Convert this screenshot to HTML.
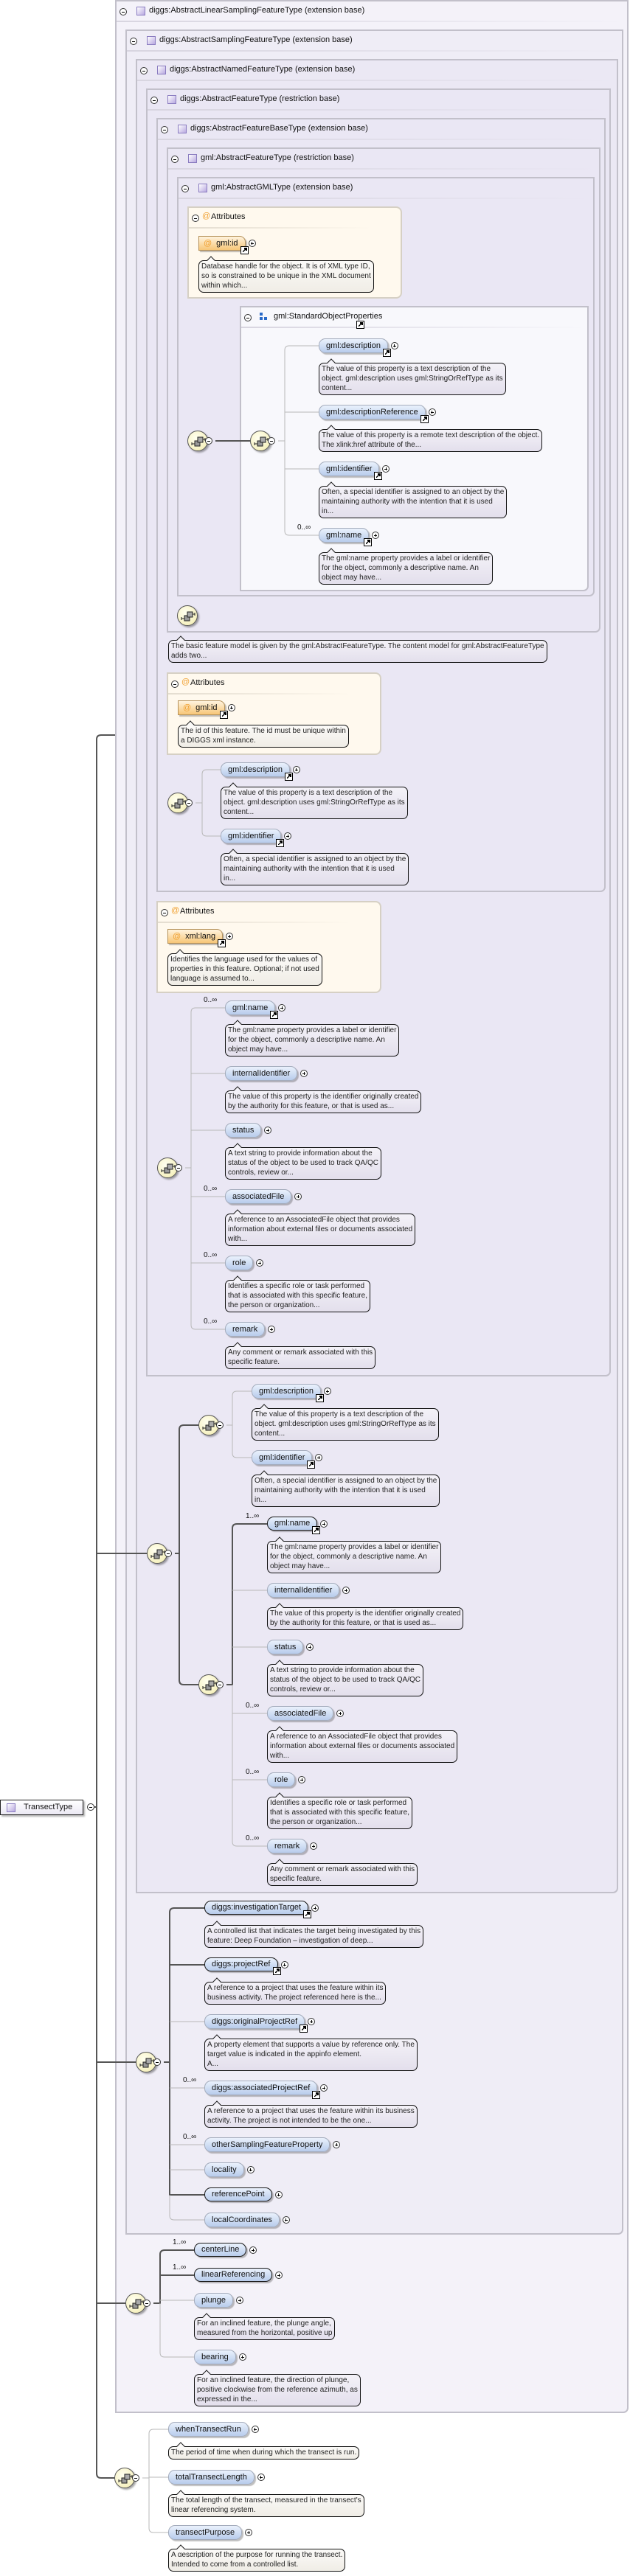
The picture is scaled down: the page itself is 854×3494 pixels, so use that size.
<!DOCTYPE html>
<html><head><meta charset="utf-8">
<style>
body{margin:0;width:854px;height:3494px;position:relative;background:#fff;font-family:"Liberation Sans",sans-serif;overflow:hidden;color:#111}
.b{position:absolute;border:2px solid #c2c0ca;border-radius:0 0 7px 0;box-sizing:border-box}
.b>.hl{position:absolute;left:0;right:0;top:26px;height:2px;background:linear-gradient(90deg,#d8d5e0,rgba(216,213,224,0))}
.bt{position:absolute;top:6px;left:44px;font-size:11px;white-space:nowrap}
.bi{position:absolute;top:7px;left:27px;width:10px;height:10px;border:1px solid #8a7cc0;background:linear-gradient(135deg,#fff,#b8a8e0)}
.mc,.pc{position:absolute;width:8px;height:8px;border:1px solid #333;border-radius:50%;background:#fff}
.mc::after,.pc::after{content:"";position:absolute;left:2px;width:4px;top:3.5px;height:1px;background:#000}
.pc::before{content:"";position:absolute;top:2px;height:4px;left:3.5px;width:1px;background:#000}
.sq{position:absolute;width:28px;height:28px;border-radius:50%;background:radial-gradient(circle at 40% 35%,#fffff0,#f3ecae);border:1px solid #555;box-sizing:border-box;box-shadow:2px 2px 2px rgba(0,0,0,.35)}
.sq svg{position:absolute;left:0;top:0}
.e{position:absolute;height:20px;white-space:nowrap}
.p{position:relative;display:inline-block;height:18px;line-height:18px;padding:0 9px;border-radius:9px;background:linear-gradient(#eaf1fc,#b8ccec);border:1px solid #a4acbc;box-shadow:2px 2px 1px rgba(0,0,0,.25);font-size:11px;vertical-align:top}
.p.r{border:1.5px solid #1a1a1a;height:17px;line-height:17px}
.e .pc{position:relative;display:inline-block;vertical-align:top;margin:5px 0 0 4px}
.lk{position:absolute;right:-5px;bottom:-6px;width:9px;height:9px;border:1px solid #000;background:#fff}
.lk::after{content:"";position:absolute;left:2px;top:2px;width:5px;height:5px;background:linear-gradient(135deg,transparent 40%,#000 40%,#000 60%,transparent 60%)}
.lk::before{content:"";position:absolute;right:1px;top:1px;width:4px;height:4px;border-top:1px solid #000;border-right:1px solid #000;box-sizing:border-box;border-width:2px}
.at{background:linear-gradient(#fff3de,#f7c677);border:1px solid #b49058;border-radius:0 8px 8px 0;padding:0 9px 0 6px}
.at i{font-style:normal;color:#f0a030;margin-right:6px}
.d{position:absolute;font-size:10px;line-height:13px;padding:1px 3px 2px 3px;border:1px solid #111;border-radius:7px;background:linear-gradient(#f4f2f8,#e3dfec);white-space:nowrap;color:#222}
.d::before{content:"";position:absolute;left:12px;top:-5px;width:7px;height:7px;background:#f4f2f8;border-left:1px solid #111;border-top:1px solid #111;transform:rotate(45deg)}
.d.w{background:linear-gradient(#fbfaf8,#f0ede6)}
.d.w::before{background:#fbfaf8}
.c{position:absolute;font-size:10px;white-space:nowrap}
.ab{position:absolute;background:#fff9ee;border:2px solid #d6d0c4;border-radius:0 8px 8px 0;box-sizing:border-box}
.ab .hl{position:absolute;left:0;right:40px;top:26px;height:2px;background:linear-gradient(90deg,#e4ddd0,rgba(228,221,208,0))}
.ab .t{position:absolute;left:30px;top:6px;font-size:11px}
.ab .ai{position:absolute;left:18px;top:5px;font-size:11px;color:#f0a030}
svg.ln{position:absolute;left:0;top:0}
</style></head><body>

<!-- nested boxes -->
<div class="b" style="left:156px;top:0;width:696px;height:3273px;background:#f4f2f9"><div class="hl"></div><div class="mc" style="left:4px;top:9px"></div><div class="bi"></div><div class="bt">diggs:AbstractLinearSamplingFeatureType (extension base)</div></div>
<div class="b" style="left:170px;top:40px;width:675px;height:2991px;background:#efedf6"><div class="hl"></div><div class="mc" style="left:4px;top:9px"></div><div class="bi"></div><div class="bt">diggs:AbstractSamplingFeatureType (extension base)</div></div>
<div class="b" style="left:184px;top:80px;width:654px;height:2488px;background:#ebe8f4"><div class="hl"></div><div class="mc" style="left:4px;top:9px"></div><div class="bi"></div><div class="bt">diggs:AbstractNamedFeatureType (extension base)</div></div>
<div class="b" style="left:198px;top:120px;width:630px;height:1747px;background:#eae7f4"><div class="hl"></div><div class="mc" style="left:4px;top:9px"></div><div class="bi"></div><div class="bt">diggs:AbstractFeatureType (restriction base)</div></div>
<div class="b" style="left:212px;top:160px;width:609px;height:1050px;background:#eae7f4"><div class="hl"></div><div class="mc" style="left:4px;top:9px"></div><div class="bi"></div><div class="bt">diggs:AbstractFeatureBaseType (extension base)</div></div>
<div class="b" style="left:226px;top:200px;width:588px;height:658px;background:#eae7f4"><div class="hl"></div><div class="mc" style="left:4px;top:9px"></div><div class="bi"></div><div class="bt">gml:AbstractFeatureType (restriction base)</div></div>
<div class="b" style="left:240px;top:240px;width:566px;height:569px;background:#eae7f4"><div class="hl"></div><div class="mc" style="left:4px;top:9px"></div><div class="bi"></div><div class="bt">gml:AbstractGMLType (extension base)</div></div>

<!-- SOP box -->
<div class="b" style="left:325px;top:415px;width:473px;height:387px;background:#f8f8fc;border-radius:0 0 7px 0"><div class="hl"></div><div class="mc" style="left:4px;top:9px"></div>
<div style="position:absolute;left:25px;top:7px;width:4px;height:4px;background:#2a6ac8"></div><div style="position:absolute;left:25px;top:13px;width:4px;height:4px;background:#2a6ac8"></div><div style="position:absolute;left:31px;top:13px;width:4px;height:4px;background:#2a6ac8"></div>
<div class="bt" style="left:44px">gml:StandardObjectProperties</div><div class="lk" style="right:auto;bottom:auto;left:156px;top:18px"></div></div>

<!-- attribute boxes -->
<div class="ab" style="left:254px;top:280px;width:291px;height:125px"><div class="hl"></div><div class="mc" style="left:4px;top:9px"></div><div class="ai">@</div><div class="t">Attributes</div></div>
<div class="ab" style="left:226px;top:912px;width:291px;height:112px"><div class="hl"></div><div class="mc" style="left:4px;top:9px"></div><div class="ai">@</div><div class="t">Attributes</div></div>
<div class="ab" style="left:212px;top:1222px;width:305px;height:125px"><div class="hl"></div><div class="mc" style="left:4px;top:9px"></div><div class="ai">@</div><div class="t">Attributes</div></div>

<!-- TransectType -->
<div style="position:absolute;left:0;top:2441px;width:113px;height:21px;border:1px solid #222;box-sizing:border-box;background:linear-gradient(#fff,#ece9f4);box-shadow:2px 2px 2px rgba(0,0,0,.3)"><div class="bi" style="left:8px;top:4px"></div><div style="position:absolute;left:31px;top:3px;font-size:11px">TransectType</div></div>
<div class="mc" style="left:118px;top:2446px"></div>

<!-- connectors -->
<svg class="ln" width="854" height="3494" fill="none">
<g stroke="#555" stroke-width="2">
<path d="M156 997H137Q131 997 131 1003V3355Q131 3361 137 3361H155"/>
<path d="M131 2107H199M131 2797H184M131 3124H170M127 2451H131"/>
<path d="M292 598H339"/>
<path d="M269 1933H249Q243 1933 243 1939V2279Q243 2285 249 2285H269M237 2107H243"/>
<path d="M362 2067H321Q315 2067 315 2073V2285H307"/>
<path d="M277 2588H236Q230 2588 230 2594V2977H277M230 2665H277M222 2797H230"/>
<path d="M263 3052H223Q217 3052 217 3058V3124H208M217 3086H263"/>
</g>
<g stroke="#b8b8b8" stroke-width="1">
<path d="M432 469H392Q386 469 386 475V720Q386 726 392 726H432M386 559H432M386 636H432M377 598H386"/>
<path d="M299 1044H280Q274 1044 274 1050V1128Q274 1134 280 1134H299M265 1089H274"/>
<path d="M305 1367H265Q259 1367 259 1373V1797Q259 1803 265 1803H305M259 1456H305M259 1533H305M259 1623H305M259 1713H305M251 1584H259"/>
<path d="M341 1887H321Q315 1887 315 1893V1971Q315 1977 321 1977H341M307 1933H315"/>
<path d="M315 2285V2498Q315 2504 321 2504H362M315 2157H362M315 2234H362M315 2324H362M315 2414H362"/>
<path d="M230 2977V3005Q230 3011 236 3011H277M230 2742H277M230 2832H277M230 2909H277M230 2943H277"/>
<path d="M217 3124V3191Q217 3197 223 3197H263M217 3120H263"/>
<path d="M228 3295H208Q202 3295 202 3301V3429Q202 3435 208 3435H228M202 3360H228M193 3361H202"/>
</g>
</svg>

<!-- sequence icons -->
<div class="sq" style="left:254px;top:584px"><svg width="28" height="28"><path d="M5 17h4M5 15v4M19 11h4M23 9v4" stroke="#222"/><rect x="9" y="13" width="7" height="7" fill="#999" stroke="#222"/><rect x="13" y="8" width="7" height="7" fill="#aaa" stroke="#222"/></svg></div><div class="mc" style="left:278px;top:593px"></div>
<div class="sq" style="left:339px;top:584px"><svg width="28" height="28"><path d="M5 17h4M5 15v4M19 11h4M23 9v4" stroke="#222"/><rect x="9" y="13" width="7" height="7" fill="#999" stroke="#222"/><rect x="13" y="8" width="7" height="7" fill="#aaa" stroke="#222"/></svg></div><div class="mc" style="left:363px;top:593px"></div>
<div class="sq" style="left:240px;top:821px"><svg width="28" height="28"><path d="M5 17h4M5 15v4M19 11h4M23 9v4" stroke="#222"/><rect x="9" y="13" width="7" height="7" fill="#999" stroke="#222"/><rect x="13" y="8" width="7" height="7" fill="#aaa" stroke="#222"/></svg></div>
<div class="sq" style="left:227px;top:1075px"><svg width="28" height="28"><path d="M5 17h4M5 15v4M19 11h4M23 9v4" stroke="#222"/><rect x="9" y="13" width="7" height="7" fill="#999" stroke="#222"/><rect x="13" y="8" width="7" height="7" fill="#aaa" stroke="#222"/></svg></div><div class="mc" style="left:251px;top:1084px"></div>
<div class="sq" style="left:213px;top:1570px"><svg width="28" height="28"><path d="M5 17h4M5 15v4M19 11h4M23 9v4" stroke="#222"/><rect x="9" y="13" width="7" height="7" fill="#999" stroke="#222"/><rect x="13" y="8" width="7" height="7" fill="#aaa" stroke="#222"/></svg></div><div class="mc" style="left:237px;top:1579px"></div>
<div class="sq" style="left:269px;top:1919px"><svg width="28" height="28"><path d="M5 17h4M5 15v4M19 11h4M23 9v4" stroke="#222"/><rect x="9" y="13" width="7" height="7" fill="#999" stroke="#222"/><rect x="13" y="8" width="7" height="7" fill="#aaa" stroke="#222"/></svg></div><div class="mc" style="left:293px;top:1928px"></div>
<div class="sq" style="left:199px;top:2093px"><svg width="28" height="28"><path d="M5 17h4M5 15v4M19 11h4M23 9v4" stroke="#222"/><rect x="9" y="13" width="7" height="7" fill="#999" stroke="#222"/><rect x="13" y="8" width="7" height="7" fill="#aaa" stroke="#222"/></svg></div><div class="mc" style="left:223px;top:2102px"></div>
<div class="sq" style="left:269px;top:2271px"><svg width="28" height="28"><path d="M5 17h4M5 15v4M19 11h4M23 9v4" stroke="#222"/><rect x="9" y="13" width="7" height="7" fill="#999" stroke="#222"/><rect x="13" y="8" width="7" height="7" fill="#aaa" stroke="#222"/></svg></div><div class="mc" style="left:293px;top:2280px"></div>
<div class="sq" style="left:184px;top:2783px"><svg width="28" height="28"><path d="M5 17h4M5 15v4M19 11h4M23 9v4" stroke="#222"/><rect x="9" y="13" width="7" height="7" fill="#999" stroke="#222"/><rect x="13" y="8" width="7" height="7" fill="#aaa" stroke="#222"/></svg></div><div class="mc" style="left:208px;top:2792px"></div>
<div class="sq" style="left:170px;top:3110px"><svg width="28" height="28"><path d="M5 17h4M5 15v4M19 11h4M23 9v4" stroke="#222"/><rect x="9" y="13" width="7" height="7" fill="#999" stroke="#222"/><rect x="13" y="8" width="7" height="7" fill="#aaa" stroke="#222"/></svg></div><div class="mc" style="left:194px;top:3119px"></div>
<div class="sq" style="left:155px;top:3347px"><svg width="28" height="28"><path d="M5 17h4M5 15v4M19 11h4M23 9v4" stroke="#222"/><rect x="9" y="13" width="7" height="7" fill="#999" stroke="#222"/><rect x="13" y="8" width="7" height="7" fill="#aaa" stroke="#222"/></svg></div><div class="mc" style="left:179px;top:3356px"></div>

<!-- attributes content -->
<div class="e" style="left:269px;top:320px"><span class="p at"><i>@</i>gml:id<span class="lk"></span></span><span class="pc"></span></div>
<div class="d w" style="left:269px;top:353px">Database handle for the object. It is of XML type ID,<br>so is constrained to be unique in the XML document<br>within which...</div>
<div class="e" style="left:241px;top:950px"><span class="p at"><i>@</i>gml:id<span class="lk"></span></span><span class="pc"></span></div>
<div class="d w" style="left:241px;top:983px">The id of this feature. The id must be unique within<br>a DIGGS xml instance.</div>
<div class="e" style="left:227px;top:1260px"><span class="p at"><i>@</i>xml:lang<span class="lk"></span></span><span class="pc"></span></div>
<div class="d w" style="left:227px;top:1293px">Identifies the language used for the values of<br>properties in this feature. Optional; if not used<br>language is assumed to...</div>

<!-- SOP -->
<div class="e" style="left:432px;top:459px"><span class="p">gml:description<span class="lk"></span></span><span class="pc"></span></div>
<div class="d" style="left:432px;top:492px">The value of this property is a text description of the<br>object. gml:description uses gml:StringOrRefType as its<br>content...</div>
<div class="e" style="left:432px;top:549px"><span class="p">gml:descriptionReference<span class="lk"></span></span><span class="pc"></span></div>
<div class="d" style="left:432px;top:582px">The value of this property is a remote text description of the object.<br>The xlink:href attribute of the...</div>
<div class="e" style="left:432px;top:626px"><span class="p">gml:identifier<span class="lk"></span></span><span class="pc"></span></div>
<div class="d" style="left:432px;top:659px">Often, a special identifier is assigned to an object by the<br>maintaining authority with the intention that it is used<br>in...</div>
<div class="c" style="left:403px;top:710px">0..∞</div>
<div class="e" style="left:432px;top:716px"><span class="p">gml:name<span class="lk"></span></span><span class="pc"></span></div>
<div class="d" style="left:432px;top:749px">The gml:name property provides a label or identifier<br>for the object, commonly a descriptive name. An<br>object may have...</div>

<div class="d" style="left:228px;top:868px">The basic feature model is given by the gml:AbstractFeatureType. The content model for gml:AbstractFeatureType<br>adds two...</div>

<!-- box5 group -->
<div class="e" style="left:299px;top:1034px"><span class="p">gml:description<span class="lk"></span></span><span class="pc"></span></div>
<div class="d" style="left:299px;top:1067px">The value of this property is a text description of the<br>object. gml:description uses gml:StringOrRefType as its<br>content...</div>
<div class="e" style="left:299px;top:1124px"><span class="p">gml:identifier<span class="lk"></span></span><span class="pc"></span></div>
<div class="d" style="left:299px;top:1157px">Often, a special identifier is assigned to an object by the<br>maintaining authority with the intention that it is used<br>in...</div>

<!-- box4 group -->
<div class="c" style="left:276px;top:1351px">0..∞</div>
<div class="e" style="left:305px;top:1357px"><span class="p">gml:name<span class="lk"></span></span><span class="pc"></span></div>
<div class="d" style="left:305px;top:1389px">The gml:name property provides a label or identifier<br>for the object, commonly a descriptive name. An<br>object may have...</div>
<div class="e" style="left:305px;top:1446px"><span class="p">internalIdentifier</span><span class="pc"></span></div>
<div class="d" style="left:305px;top:1479px">The value of this property is the identifier originally created<br>by the authority for this feature, or that is used as...</div>
<div class="e" style="left:305px;top:1523px"><span class="p">status</span><span class="pc"></span></div>
<div class="d" style="left:305px;top:1556px">A text string to provide information about the<br>status of the object to be used to track QA/QC<br>controls, review or...</div>
<div class="c" style="left:276px;top:1607px">0..∞</div>
<div class="e" style="left:305px;top:1613px"><span class="p">associatedFile</span><span class="pc"></span></div>
<div class="d" style="left:305px;top:1646px">A reference to an AssociatedFile object that provides<br>information about external files or documents associated<br>with...</div>
<div class="c" style="left:276px;top:1697px">0..∞</div>
<div class="e" style="left:305px;top:1703px"><span class="p">role</span><span class="pc"></span></div>
<div class="d" style="left:305px;top:1736px">Identifies a specific role or task performed<br>that is associated with this specific feature,<br>the person or organization...</div>
<div class="c" style="left:276px;top:1787px">0..∞</div>
<div class="e" style="left:305px;top:1793px"><span class="p">remark</span><span class="pc"></span></div>
<div class="d" style="left:305px;top:1826px">Any comment or remark associated with this<br>specific feature.</div>

<!-- box3 group -->
<div class="e" style="left:341px;top:1877px"><span class="p">gml:description<span class="lk"></span></span><span class="pc"></span></div>
<div class="d" style="left:341px;top:1910px">The value of this property is a text description of the<br>object. gml:description uses gml:StringOrRefType as its<br>content...</div>
<div class="e" style="left:341px;top:1967px"><span class="p">gml:identifier<span class="lk"></span></span><span class="pc"></span></div>
<div class="d" style="left:341px;top:2000px">Often, a special identifier is assigned to an object by the<br>maintaining authority with the intention that it is used<br>in...</div>
<div class="c" style="left:333px;top:2051px">1..∞</div>
<div class="e" style="left:362px;top:2057px"><span class="p r">gml:name<span class="lk"></span></span><span class="pc"></span></div>
<div class="d" style="left:362px;top:2090px">The gml:name property provides a label or identifier<br>for the object, commonly a descriptive name. An<br>object may have...</div>
<div class="e" style="left:362px;top:2147px"><span class="p">internalIdentifier</span><span class="pc"></span></div>
<div class="d" style="left:362px;top:2180px">The value of this property is the identifier originally created<br>by the authority for this feature, or that is used as...</div>
<div class="e" style="left:362px;top:2224px"><span class="p">status</span><span class="pc"></span></div>
<div class="d" style="left:362px;top:2257px">A text string to provide information about the<br>status of the object to be used to track QA/QC<br>controls, review or...</div>
<div class="c" style="left:333px;top:2308px">0..∞</div>
<div class="e" style="left:362px;top:2314px"><span class="p">associatedFile</span><span class="pc"></span></div>
<div class="d" style="left:362px;top:2347px">A reference to an AssociatedFile object that provides<br>information about external files or documents associated<br>with...</div>
<div class="c" style="left:333px;top:2398px">0..∞</div>
<div class="e" style="left:362px;top:2404px"><span class="p">role</span><span class="pc"></span></div>
<div class="d" style="left:362px;top:2437px">Identifies a specific role or task performed<br>that is associated with this specific feature,<br>the person or organization...</div>
<div class="c" style="left:333px;top:2488px">0..∞</div>
<div class="e" style="left:362px;top:2494px"><span class="p">remark</span><span class="pc"></span></div>
<div class="d" style="left:362px;top:2527px">Any comment or remark associated with this<br>specific feature.</div>

<!-- box2 group -->
<div class="e" style="left:277px;top:2578px"><span class="p r">diggs:investigationTarget<span class="lk"></span></span><span class="pc"></span></div>
<div class="d" style="left:277px;top:2611px">A controlled list that indicates the target being investigated by this<br>feature: Deep Foundation – investigation of deep...</div>
<div class="e" style="left:277px;top:2655px"><span class="p r">diggs:projectRef<span class="lk"></span></span><span class="pc"></span></div>
<div class="d" style="left:277px;top:2688px">A reference to a project that uses the feature within its<br>business activity. The project referenced here is the...</div>
<div class="e" style="left:277px;top:2732px"><span class="p">diggs:originalProjectRef<span class="lk"></span></span><span class="pc"></span></div>
<div class="d" style="left:277px;top:2765px">A property element that supports a value by reference only. The<br>target value is indicated in the appinfo element.<br>A...</div>
<div class="c" style="left:248px;top:2816px">0..∞</div>
<div class="e" style="left:277px;top:2822px"><span class="p">diggs:associatedProjectRef<span class="lk"></span></span><span class="pc"></span></div>
<div class="d" style="left:277px;top:2855px">A reference to a project that uses the feature within its business<br>activity. The project is not intended to be the one...</div>
<div class="c" style="left:248px;top:2893px">0..∞</div>
<div class="e" style="left:277px;top:2899px"><span class="p">otherSamplingFeatureProperty</span><span class="pc"></span></div>
<div class="e" style="left:277px;top:2933px"><span class="p">locality</span><span class="pc"></span></div>
<div class="e" style="left:277px;top:2967px"><span class="p r">referencePoint</span><span class="pc"></span></div>
<div class="e" style="left:277px;top:3001px"><span class="p">localCoordinates</span><span class="pc"></span></div>

<!-- box1 group -->
<div class="c" style="left:234px;top:3036px">1..∞</div>
<div class="e" style="left:263px;top:3042px"><span class="p r">centerLine</span><span class="pc"></span></div>
<div class="c" style="left:234px;top:3070px">1..∞</div>
<div class="e" style="left:263px;top:3076px"><span class="p r">linearReferencing</span><span class="pc"></span></div>
<div class="e" style="left:263px;top:3110px"><span class="p">plunge</span><span class="pc"></span></div>
<div class="d" style="left:263px;top:3143px">For an inclined feature, the plunge angle,<br>measured from the horizontal, positive up</div>
<div class="e" style="left:263px;top:3187px"><span class="p">bearing</span><span class="pc"></span></div>
<div class="d" style="left:263px;top:3220px">For an inclined feature, the direction of plunge,<br>positive clockwise from the reference azimuth, as<br>expressed in the...</div>

<!-- last group -->
<div class="e" style="left:228px;top:3285px"><span class="p">whenTransectRun</span><span class="pc"></span></div>
<div class="d w" style="left:228px;top:3318px">The period of time when during which the transect is run.</div>
<div class="e" style="left:228px;top:3350px"><span class="p">totalTransectLength</span><span class="pc"></span></div>
<div class="d w" style="left:228px;top:3383px">The total length of the transect, measured in the transect's<br>linear referencing system.</div>
<div class="e" style="left:228px;top:3425px"><span class="p">transectPurpose</span><span class="pc"></span></div>
<div class="d w" style="left:228px;top:3457px">A description of the purpose for running the transect.<br>Intended to come from a controlled list.</div>

</body></html>
